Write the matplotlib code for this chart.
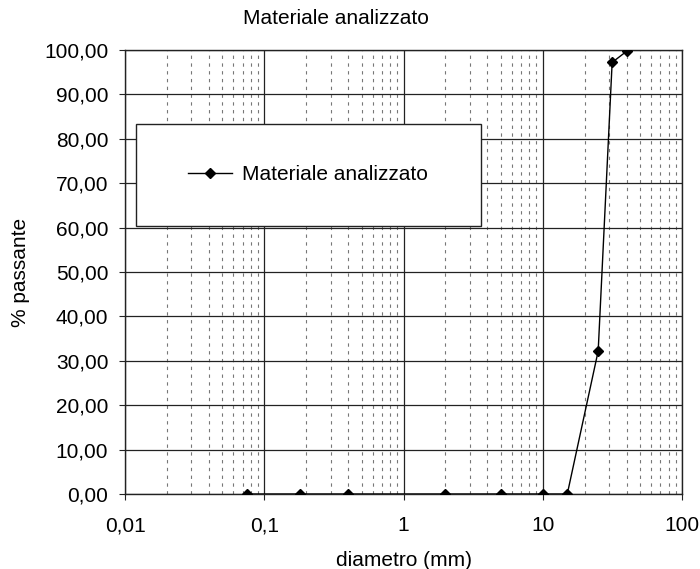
import numpy as np
import matplotlib
matplotlib.use("Agg")
import matplotlib.pyplot as plt
from matplotlib.patches import Rectangle
from matplotlib.ticker import FixedLocator, FuncFormatter, LogLocator

plt.rcParams['font.family'] = ['Liberation Sans', 'DejaVu Sans']

# diametro setacci (mm) e percentuale passante
diametro = [0.075, 0.18, 0.4, 2, 5, 10, 15, 25, 31.5, 40]
passante = [0.0, 0.0, 0.0, 0.0, 0.0, 0.0, 0.0, 32.2, 97.2, 99.7]
serie = "Materiale analizzato"
x_ticks = [0.01, 0.1, 1, 10, 100]
x_labels = ["0,01", "0,1", "1", "10", "100"]
y_ticks = list(range(0, 101, 10))

fs = 15

fig = plt.figure(figsize=(7, 5.69), dpi=100)
ax = fig.add_axes([0.1786, 0.1318, 0.7957, 0.7804])

ax.plot(diametro, passante, color='black', lw=1.0, marker='D',
        markersize=5, markerfacecolor='black', label=serie, zorder=5)

ax.set_xscale('log')
ax.set_xlim(0.01, 100)
ax.set_ylim(0, 100)

ax.xaxis.set_major_locator(FixedLocator(x_ticks))
ax.xaxis.set_major_formatter(FuncFormatter(lambda v, p: x_labels[x_ticks.index(v)] if v in x_ticks else ""))
ax.xaxis.set_minor_locator(LogLocator(base=10, subs=np.arange(2, 10), numticks=20))
ax.xaxis.set_minor_formatter(FuncFormatter(lambda v, p: ""))
ax.set_yticks(y_ticks)
ax.yaxis.set_major_formatter(FuncFormatter(lambda v, p: f"{v:.2f}".replace(".", ",")))

ax.grid(which='major', axis='both', color='#222222', lw=0.9, ls='-')
ax.grid(which='minor', axis='x', color='#777777', lw=0.8, ls=(0, (3, 4)))
ax.set_axisbelow(True)

ax.tick_params(axis='both', which='major', labelsize=fs, direction='out', length=4,
               color='#222222')
ax.tick_params(axis='x', which='major', pad=12)
ax.tick_params(axis='y', which='major', pad=8)
ax.tick_params(axis='x', which='minor', length=0)
for s in ax.spines.values():
    s.set_color('#222222')
    s.set_linewidth(1.0)

ax.set_xlabel("diametro (mm)", fontsize=fs, labelpad=11)
ax.set_ylabel("% passante", fontsize=fs, labelpad=10)
fig.text(0.48, 0.967, serie, fontsize=fs, ha='center', va='center')

# riquadro legenda
box = Rectangle((0.02, 0.604), 0.62, 0.229, transform=ax.transAxes,
                facecolor='white', edgecolor='#222222', lw=1.0, zorder=6)
ax.add_patch(box)
leg = ax.legend(loc='center left', bbox_to_anchor=(0.113, 0.7185),
                fontsize=fs, frameon=False, borderpad=0, borderaxespad=0,
                handlelength=2.1, handletextpad=0.5)
leg.set_zorder(7)

fig.savefig("out.png", dpi=100)
